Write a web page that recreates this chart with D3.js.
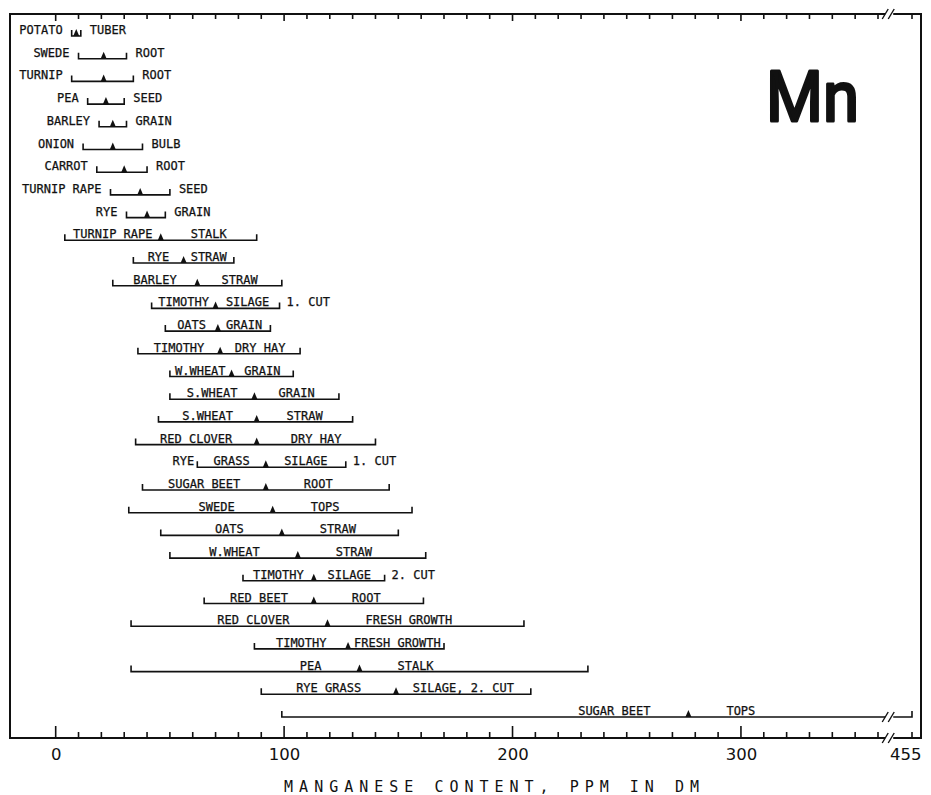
<!DOCTYPE html>
<html>
<head>
<meta charset="utf-8">
<script src="https://cdn.jsdelivr.net/npm/d3@7"></script>
<style>
  html, body { margin: 0; padding: 0; background: #fff; }
  svg { display: block; }
</style>
</head>
<body>
<svg id="chart" width="931" height="795"></svg>
<script>
// Manganese content of crops, ppm in dry matter: range (min–max) and mean per crop/tissue
const crops = ["POTATO","SWEDE","TURNIP","PEA","BARLEY","ONION","CARROT","TURNIP RAPE","RYE",
  "TURNIP RAPE","RYE","BARLEY","TIMOTHY","OATS","TIMOTHY","W.WHEAT","S.WHEAT","S.WHEAT",
  "RED CLOVER","RYE GRASS","SUGAR BEET","SWEDE","OATS","W.WHEAT","TIMOTHY","RED BEET",
  "RED CLOVER","TIMOTHY","PEA","RYE GRASS","SUGAR BEET"];
const parts = ["TUBER","ROOT","ROOT","SEED","GRAIN","BULB","ROOT","SEED","GRAIN",
  "STALK","STRAW","STRAW","SILAGE","GRAIN","DRY HAY","GRAIN","GRAIN","STRAW",
  "DRY HAY","SILAGE","ROOT","TOPS","STRAW","STRAW","SILAGE","ROOT",
  "FRESH GROWTH","FRESH GROWTH","STALK","SILAGE, 2. CUT","TOPS"];
const cuts = ["","","","","","","","","",
  "","","","1. CUT","","","","","",
  "","1. CUT","","","","","2. CUT","",
  "","","","",""];
const minValues  = [7,10,7,14,19,12,18,24,31, 4,34,25,42,48,36,50,50,45, 35,62,38,32,46,50,82,65, 33,87,33,90,99];
const meanValues = [9,21,21,22,25,25,30,37,40, 46,56,62,70,71,72,77,87,88, 88,92,92,95,99,106,113,113, 119,128,133,149,277];
const maxValues  = [11,31,34,30,31,38,40,50,48, 88,78,99,98,94,107,104,124,130, 140,127,146,156,150,162,144,161, 205,170,233,208,455];
// where the crop / tissue names sit: beside the bracket, above the line, or first word beside
const labelPlacement = ["outside","outside","outside","outside","outside","outside","outside","outside","outside",
  "inside","inside","inside","inside","inside","inside","inside","inside","inside",
  "inside","split","inside","inside","inside","inside","inside","inside",
  "inside","inside","inside","inside","inside"];
const minorTicks = d3.range(0, 361, 10).concat([455]);
const majorTicks = [0, 100, 200, 300];
const tickLabels = [0, 100, 200, 300, 455];
const axisTitle = "MANGANESE CONTENT, PPM IN DM";
const elementLabel = "Mn";

const svg = d3.select("#chart");
const frame = { left: 10, top: 14, right: 921, bottom: 738 };
const ink = "#111";
const labelFont = "'DejaVu Sans Mono', monospace";

// broken axis: linear up to 360, compressed segment up to 455
const x = d3.scaleLinear().domain([-20, 360, 455]).range([frame.left, 878, 912]);
const breakX = x(360) + (x(455) - x(360)) * 0.33;
const y = d3.scalePoint().domain(d3.range(crops.length)).range([36, 717]);

function breakMarks(g, cx, cy) {
  [-4, 2].forEach(d => {
    g.append("line")
      .attr("x1", cx + d - 3).attr("y1", cy + 5)
      .attr("x2", cx + d + 3).attr("y2", cy - 5)
      .attr("stroke", ink).attr("stroke-width", 1.4);
  });
}

// frame with axis breaks on top and bottom edges
const fr = svg.append("g").attr("fill", "none").attr("stroke", ink).attr("stroke-width", 2);
fr.append("path").attr("d",
  `M${breakX - 4},${frame.top} H${frame.left} V${frame.bottom} H${breakX - 4}`);
fr.append("path").attr("d",
  `M${breakX + 4},${frame.top} H${frame.right} V${frame.bottom} H${breakX + 4}`);
breakMarks(svg.append("g"), breakX, frame.top);
breakMarks(svg.append("g"), breakX, frame.bottom);

// tick marks pointing inward from the bottom and top edges
const tickLen = (t, major, minor) => majorTicks.includes(t) ? major : minor;
const ticks = svg.append("g").attr("stroke", ink).attr("stroke-width", 1.6);
ticks.selectAll("line.bottom").data(minorTicks).join("line")
  .attr("class", "bottom")
  .attr("x1", d => x(d)).attr("x2", d => x(d))
  .attr("y1", frame.bottom).attr("y2", d => frame.bottom - tickLen(d, 12, 6));
ticks.selectAll("line.top").data(minorTicks).join("line")
  .attr("class", "top")
  .attr("x1", d => x(d)).attr("x2", d => x(d))
  .attr("y1", frame.top).attr("y2", d => frame.top + tickLen(d, 7, 5));

// tick labels
const lab = svg.append("g").attr("transform", `translate(0,${frame.bottom})`)
  .call(d3.axisBottom(x).tickValues(tickLabels).tickSize(0).tickPadding(10));
lab.select(".domain").remove();
lab.selectAll(".tick text")
  .attr("font-family", "'DejaVu Sans', sans-serif")
  .attr("font-size", 16.5)
  .attr("fill", ink)
  .filter(d => d === 455)
  .attr("text-anchor", "end")
  .attr("dx", 9);

// axis title
svg.append("text")
  .attr("x", x(100)).attr("y", 792)
  .attr("font-family", labelFont)
  .attr("font-size", 15)
  .attr("letter-spacing", 6)
  .attr("fill", ink)
  .text(axisTitle);

// element symbol, rounded stroke ends
svg.append("text")
  .attr("x", 766).attr("y", 121)
  .attr("font-family", "Roboto, sans-serif")
  .attr("font-weight", 400)
  .attr("font-size", 70)
  .attr("textLength", 93)
  .attr("lengthAdjust", "spacingAndGlyphs")
  .attr("fill", ink)
  .attr("stroke", ink)
  .attr("stroke-width", 3)
  .attr("stroke-linejoin", "round")
  .text(elementLabel);

// range brackets with mean markers
const rows = svg.append("g");
crops.forEach((crop, i) => {
  const yy = y(i);
  const x0 = x(minValues[i]), x1 = x(maxValues[i]), xm = x(meanValues[i]);
  const g = rows.append("g");
  const line = g.append("g").attr("fill", "none").attr("stroke", ink).attr("stroke-width", 1.6);
  if (x1 > breakX) {
    line.append("path").attr("d", `M${x0},${yy - 6} V${yy} H${breakX - 4}`);
    line.append("path").attr("d", `M${breakX + 4},${yy} H${x1} V${yy - 6}`);
    breakMarks(g, breakX, yy);
  } else {
    line.append("path").attr("d", `M${x0},${yy - 6} V${yy} H${x1} V${yy - 6}`);
  }
  g.append("path")
    .attr("d", `M${xm - 3},${yy} L${xm + 3},${yy} L${xm},${yy - 7} Z`)
    .attr("fill", ink);

  const txt = (s) => g.append("text")
    .attr("y", yy - 2)
    .attr("font-family", labelFont)
    .attr("font-size", 12)
    .attr("fill", ink)
    .attr("stroke", ink)
    .attr("stroke-width", 0.25)
    .text(s);
  const outsideGap = 9;
  const insideGap = (half, el) => {
    const w = el.node().getComputedTextLength();
    return Math.max(6, Math.min(38, (half - w) / 2));
  };
  const mode = labelPlacement[i];
  if (mode === "outside") {
    txt(crop).attr("x", x0 - outsideGap).attr("text-anchor", "end");
    txt(parts[i]).attr("x", x1 + outsideGap).attr("text-anchor", "start");
  } else {
    let inner = crop;
    if (mode === "split") {
      const words = crop.split(" ");
      txt(words[0]).attr("x", x0 - 3).attr("text-anchor", "end");
      inner = words.slice(1).join(" ");
    }
    const l = txt(inner).attr("text-anchor", "end");
    l.attr("x", xm - insideGap(xm - x0, l));
    const r = txt(parts[i]).attr("text-anchor", "start");
    r.attr("x", xm + insideGap(Math.min(x1, breakX) - xm, r));
  }
  if (cuts[i]) {
    txt(cuts[i]).attr("x", x1 + 7).attr("text-anchor", "start");
  }
});
</script>
</body>
</html>
